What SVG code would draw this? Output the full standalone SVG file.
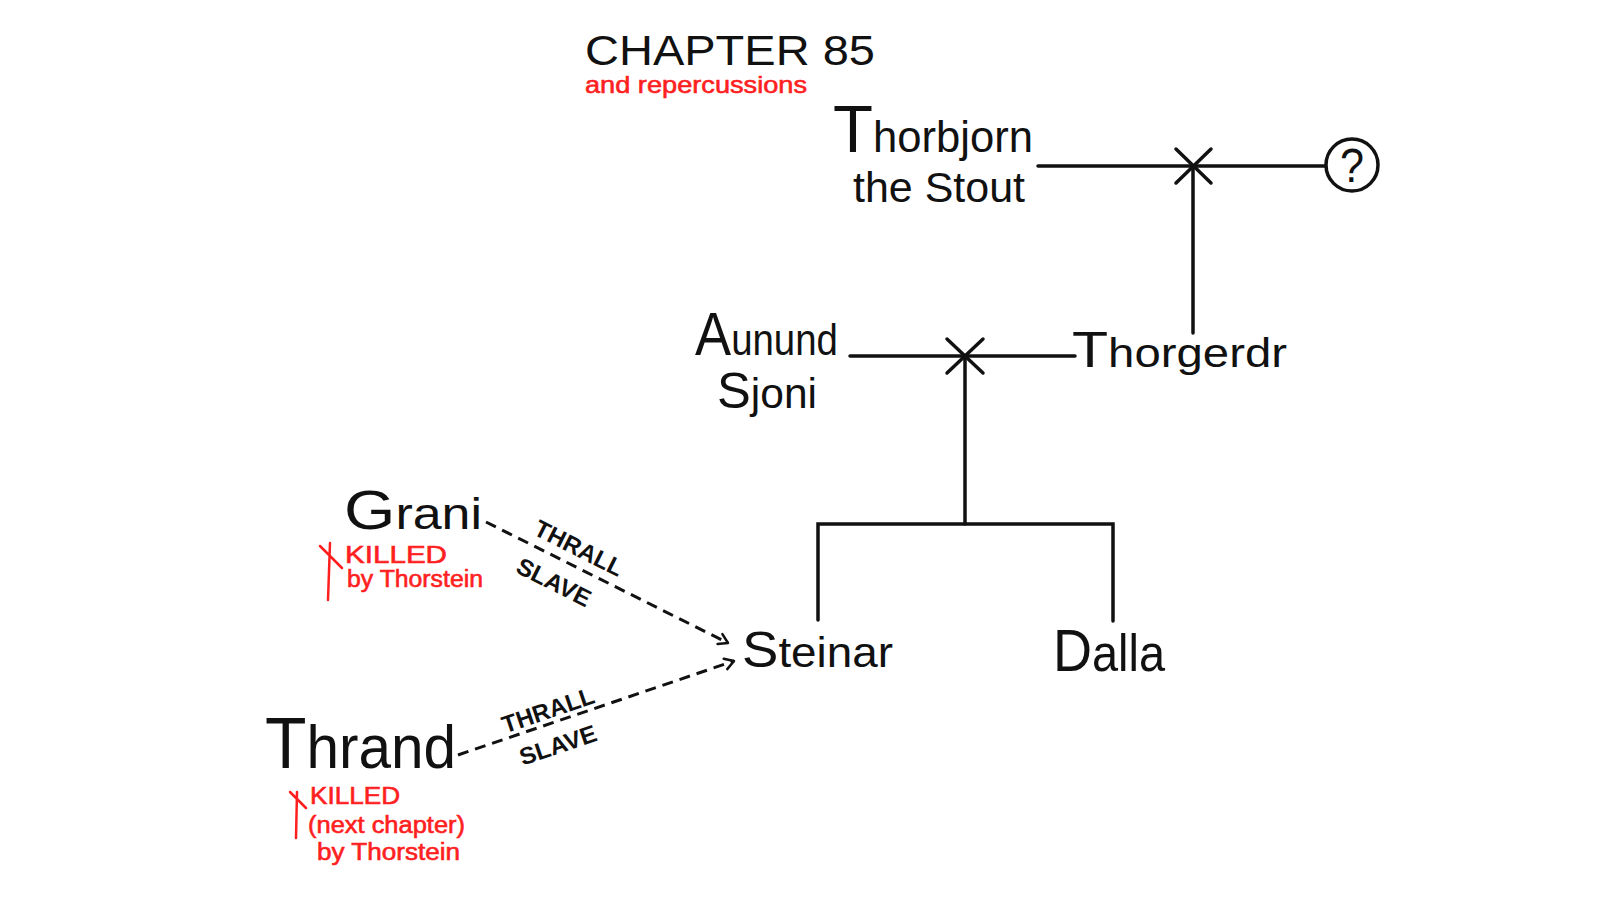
<svg xmlns="http://www.w3.org/2000/svg" width="1600" height="900" viewBox="0 0 1600 900">
<defs>
<style>
.nm{font-family:"Liberation Sans","DejaVu Sans",sans-serif;fill:#111;}
.red{font-family:"Liberation Sans","DejaVu Sans",sans-serif;fill:#ff1f1f;stroke:#ff1f1f;stroke-width:0.6;}
.lbl{font-family:"Liberation Sans","DejaVu Sans",sans-serif;fill:#111;font-size:24px;font-weight:bold;text-anchor:middle;}
.ln{stroke:#111;stroke-width:3.5;fill:none;stroke-linecap:round;}
.dash{stroke:#111;stroke-width:3;fill:none;stroke-dasharray:11 7;}
.mk{stroke:#ff1f1f;stroke-width:2.5;fill:none;stroke-linecap:round;}
</style>
<marker id="arr" markerWidth="14" markerHeight="14" refX="11" refY="7" orient="auto" markerUnits="userSpaceOnUse">
<path d="M2,1.5 L11,7 L2,12.5" stroke="#111" stroke-width="2.5" fill="none" stroke-linecap="round" stroke-linejoin="round"/>
</marker>
</defs>
<rect width="1600" height="900" fill="#fff"/>

<g id="title">
<text class="nm" x="585" y="65" font-size="42" textLength="290" lengthAdjust="spacingAndGlyphs">CHAPTER 85</text>
<text class="red" x="585" y="93" font-size="24" textLength="222" lengthAdjust="spacingAndGlyphs">and repercussions</text>
</g>

<g id="connectors">
<line class="ln" x1="1038" y1="166" x2="1325" y2="166"/>
<line class="ln" x1="1176" y1="149" x2="1211" y2="183"/>
<line class="ln" x1="1211" y1="149" x2="1176" y2="183"/>
<line class="ln" x1="1193" y1="166" x2="1193" y2="333"/>
<line class="ln" x1="850" y1="356" x2="1075" y2="356"/>
<line class="ln" x1="947" y1="339" x2="983" y2="373"/>
<line class="ln" x1="983" y1="339" x2="947" y2="373"/>
<line class="ln" x1="965" y1="356" x2="965" y2="524"/>
<polyline class="ln" points="818,620 818,524 1113,524 1113,621"/>
<line class="dash" x1="486" y1="522" x2="728" y2="643" marker-end="url(#arr)"/>
<line class="dash" x1="458" y1="755" x2="734" y2="661" marker-end="url(#arr)"/>
<text class="lbl" transform="translate(579,548) rotate(26.7)" y="8.5" textLength="96" lengthAdjust="spacingAndGlyphs">THRALL</text>
<text class="lbl" transform="translate(554,582) rotate(26.7)" y="8.5" textLength="80" lengthAdjust="spacingAndGlyphs">SLAVE</text>
<text class="lbl" transform="translate(548,710) rotate(-18.7)" y="8.5" textLength="96" lengthAdjust="spacingAndGlyphs">THRALL</text>
<text class="lbl" transform="translate(558,745) rotate(-18.7)" y="8.5" textLength="80" lengthAdjust="spacingAndGlyphs">SLAVE</text>
</g>

<g id="thorbjorn">
<text class="nm" x="833" y="152" font-size="44" textLength="200" lengthAdjust="spacingAndGlyphs"><tspan font-size="66">T</tspan>horbjorn</text>
<text class="nm" x="853" y="202" font-size="42" textLength="172" lengthAdjust="spacingAndGlyphs">the Stout</text>
</g>

<g id="unknown">
<circle cx="1352" cy="165" r="26" fill="#fff" stroke="#111" stroke-width="3.5"/>
<text class="nm" x="1352" y="182" font-size="48" text-anchor="middle" textLength="24" lengthAdjust="spacingAndGlyphs">?</text>
</g>

<g id="aunund">
<text class="nm" x="695" y="355" font-size="44" textLength="143" lengthAdjust="spacingAndGlyphs"><tspan font-size="62">A</tspan>unund</text>
<text class="nm" x="717" y="408" font-size="42" textLength="100" lengthAdjust="spacingAndGlyphs"><tspan font-size="50">S</tspan>joni</text>
</g>

<g id="thorgerdr">
<text class="nm" x="1072" y="367" font-size="40" textLength="215" lengthAdjust="spacingAndGlyphs"><tspan font-size="50">T</tspan>horgerdr</text>
</g>

<g id="steinar">
<text class="nm" x="742" y="667" font-size="42" textLength="151" lengthAdjust="spacingAndGlyphs"><tspan font-size="50">S</tspan>teinar</text>
</g>

<g id="dalla">
<text class="nm" x="1053" y="671" font-size="52" textLength="112" lengthAdjust="spacingAndGlyphs"><tspan font-size="60">D</tspan>alla</text>
</g>

<g id="grani">
<text class="nm" x="344" y="529" font-size="44" textLength="138" lengthAdjust="spacingAndGlyphs"><tspan font-size="56">G</tspan>rani</text>
<path class="mk" d="M330,543 L328,600 M320,546 L342,568"/>
<text class="red" x="345" y="563" font-size="24" textLength="102" lengthAdjust="spacingAndGlyphs">KILLED</text>
<text class="red" x="347" y="587" font-size="23" textLength="136" lengthAdjust="spacingAndGlyphs">by Thorstein</text>
</g>

<g id="thrand">
<text class="nm" x="265" y="768" font-size="62" textLength="191" lengthAdjust="spacingAndGlyphs"><tspan font-size="72">T</tspan>hrand</text>
<path class="mk" d="M297,792 L296,838 M290,792 L306,808"/>
<text class="red" x="310" y="804" font-size="23" textLength="90" lengthAdjust="spacingAndGlyphs">KILLED</text>
<text class="red" x="308" y="833" font-size="23" textLength="157" lengthAdjust="spacingAndGlyphs">(next chapter)</text>
<text class="red" x="317" y="860" font-size="23" textLength="143" lengthAdjust="spacingAndGlyphs">by Thorstein</text>
</g>
</svg>
